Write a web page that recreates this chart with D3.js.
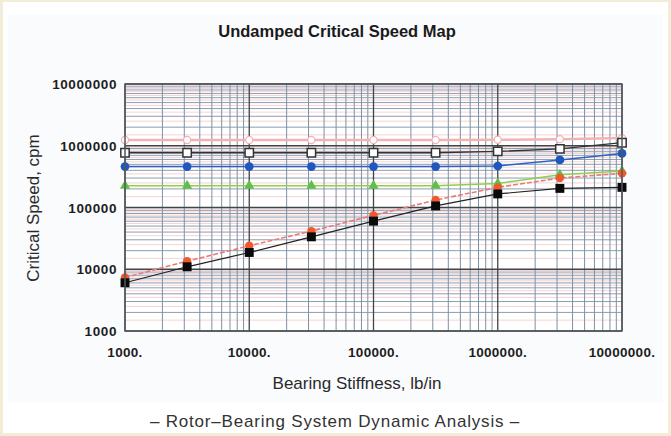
<!DOCTYPE html>
<html>
<head>
<meta charset="utf-8">
<script src="https://cdn.jsdelivr.net/npm/d3@7"></script>
<style>
  body { margin: 0; background: #f2edd7; }
  svg { display: block; }
  text { font-family: "Liberation Sans", Arial, sans-serif; }
</style>
</head>
<body>
<svg id="chart" width="671" height="436"></svg>
<script>
const stiffness = [1e3, 3162, 1e4, 31623, 1e5, 316228, 1e6, 3162278, 1e7];
const mode1 = [1.24e6, 1.24e6, 1.24e6, 1.24e6, 1.24e6, 1.24e6, 1.25e6, 1.28e6, 1.33e6];
const mode2 = [7.7e5, 7.7e5, 7.7e5, 7.7e5, 7.7e5, 7.7e5, 8.1e5, 8.9e5, 1.12e6];
const mode3 = [4.6e5, 4.6e5, 4.6e5, 4.6e5, 4.6e5, 4.6e5, 4.7e5, 5.9e5, 7.5e5];
const mode4 = [2.25e5, 2.25e5, 2.25e5, 2.25e5, 2.25e5, 2.25e5, 2.45e5, 3.4e5, 3.9e5];
const mode5 = [7360, 13500, 24000, 41500, 74500, 132000, 212000, 300000, 357000];
const mode6 = [6040, 10960, 18700, 33500, 60200, 106000, 166000, 204000, 212000];

const xTicks = [1e3, 1e4, 1e5, 1e6, 1e7];
const yTicks = [1e3, 1e4, 1e5, 1e6, 1e7];

const svg = d3.select("#chart");

// frame
svg.append("rect").attr("x", 3).attr("y", 2).attr("width", 665).attr("height", 431).attr("fill", "#ffffff");
svg.append("rect").attr("x", 8).attr("y", 15).attr("width", 655).attr("height", 388).attr("fill", "#fafbfd");

const x = d3.scaleLog().domain([1e3, 1e7]).range([125, 622]);
const y = d3.scaleLog().domain([1e3, 1e7]).range([331, 84]);

const plot = svg.append("g");
plot.append("rect")
  .attr("x", x(1e3)).attr("y", y(1e7))
  .attr("width", x(1e7) - x(1e3)).attr("height", y(1e3) - y(1e7))
  .attr("fill", "#ffffff");

// grid
const decades = [1e3, 1e4, 1e5, 1e6];
let pinkY = [], minorV = [], minorH = [];
decades.forEach((d) => {
  for (let k = 2; k <= 9; k++) {
    minorV.push(d * k);
    minorH.push(d * k);
  }
  for (let k = 1.5; k < 10; k += 1) pinkY.push(d * k);
});

plot.selectAll(".hp").data(pinkY).enter().append("line")
  .attr("x1", x(1e3)).attr("x2", x(1e7))
  .attr("y1", (d) => y(d)).attr("y2", (d) => y(d))
  .attr("stroke", "#f5d3d3").attr("stroke-width", 1);

plot.selectAll(".hm").data(minorH).enter().append("line")
  .attr("x1", x(1e3)).attr("x2", x(1e7))
  .attr("y1", (d) => y(d)).attr("y2", (d) => y(d))
  .attr("stroke", "#8c9db0").attr("stroke-width", 1);

plot.selectAll(".vm").data(minorV).enter().append("line")
  .attr("y1", y(1e3)).attr("y2", y(1e7))
  .attr("x1", (d) => x(d)).attr("x2", (d) => x(d))
  .attr("stroke", "#7d91a3").attr("stroke-width", 1);

plot.selectAll(".hM").data(yTicks).enter().append("line")
  .attr("x1", x(1e3)).attr("x2", x(1e7))
  .attr("y1", (d) => y(d)).attr("y2", (d) => y(d))
  .attr("stroke", "#404548").attr("stroke-width", 1.3);

plot.selectAll(".vM").data(xTicks).enter().append("line")
  .attr("y1", y(1e3)).attr("y2", y(1e7))
  .attr("x1", (d) => x(d)).attr("x2", (d) => x(d))
  .attr("stroke", "#404548").attr("stroke-width", 1.3);

// series
const line = d3.line().x((d) => x(d[0])).y((d) => y(d[1]));
const pts = (vals) => stiffness.map((s, i) => [s, vals[i]]);

function drawLine(vals, color, width, dash) {
  plot.append("path").datum(pts(vals))
    .attr("d", line).attr("fill", "none")
    .attr("stroke", color).attr("stroke-width", width)
    .attr("stroke-dasharray", dash || null);
}

drawLine(mode1, "#f4b3b3", 2.5);
drawLine(mode2, "#333333", 1.3);
drawLine(mode3, "#2c62c8", 1.5);
drawLine(mode4, "#8fd04a", 1.5);
drawLine(mode6, "#222222", 1.2);
drawLine(mode5, "#ea7a7a", 1.6, "5,2");

const sym = (type, size) => d3.symbol().type(type).size(size)();

function drawMarks(vals, type, size, fill, stroke, sw) {
  plot.selectAll(null).data(pts(vals)).enter().append("path")
    .attr("transform", (d) => `translate(${x(d[0])},${y(d[1])})`)
    .attr("d", sym(type, size))
    .attr("fill", fill).attr("stroke", stroke).attr("stroke-width", sw);
}

drawMarks(mode1, d3.symbolCircle, 40, "#ffffff", "#f2b0b8", 1.2);
drawMarks(mode2, d3.symbolSquare, 70, "#ffffff", "#333333", 1.5);
drawMarks(mode3, d3.symbolCircle, 60, "#1f56bf", "none", 0);
drawMarks(mode4, d3.symbolTriangle, 45, "#5fbf4a", "none", 0);
drawMarks(mode5, d3.symbolCircle, 55, "#f0582e", "none", 0);
drawMarks(mode6, d3.symbolSquare, 80, "#0a0a0a", "none", 0);

// border
plot.append("rect")
  .attr("x", x(1e3)).attr("y", y(1e7))
  .attr("width", x(1e7) - x(1e3)).attr("height", y(1e3) - y(1e7))
  .attr("fill", "none").attr("stroke", "#555a5e").attr("stroke-width", 1.5);

// axis labels
const fmt = (d) => d3.format("d")(d);
svg.selectAll(".yl").data(yTicks).enter().append("text")
  .attr("x", 117).attr("y", (d) => y(d) + 5)
  .attr("text-anchor", "end")
  .attr("font-size", 13.5).attr("font-weight", "bold")
  .attr("letter-spacing", 0.6)
  .attr("fill", "#1e1e1e")
  .text(fmt);

svg.selectAll(".xl").data(xTicks).enter().append("text")
  .attr("x", (d) => x(d)).attr("y", 357)
  .attr("text-anchor", "middle")
  .attr("font-size", 13.5).attr("font-weight", "bold")
  .attr("letter-spacing", 0.3)
  .attr("fill", "#1e1e1e")
  .text((d) => fmt(d) + ".");

svg.append("text")
  .attr("x", 337).attr("y", 37)
  .attr("text-anchor", "middle")
  .attr("font-size", 16.5).attr("font-weight", "bold")
  .attr("fill", "#1a1a1a")
  .text("Undamped Critical Speed Map");

svg.append("text")
  .attr("x", 357).attr("y", 389)
  .attr("text-anchor", "middle")
  .attr("font-size", 17)
  .attr("fill", "#2a2a2a")
  .text("Bearing Stiffness, lb/in");

svg.append("text")
  .attr("transform", "translate(39,208) rotate(-90)")
  .attr("text-anchor", "middle")
  .attr("font-size", 17)
  .attr("fill", "#2a2a2a")
  .text("Critical Speed, cpm");

svg.append("text")
  .attr("x", 335).attr("y", 427)
  .attr("text-anchor", "middle")
  .attr("font-family", "'Noto Sans CJK KR', 'Noto Sans', sans-serif")
  .attr("font-size", 17)
  .attr("letter-spacing", 0.8)
  .attr("fill", "#333333")
  .text("– Rotor–Bearing System Dynamic Analysis –");
</script>
</body>
</html>
